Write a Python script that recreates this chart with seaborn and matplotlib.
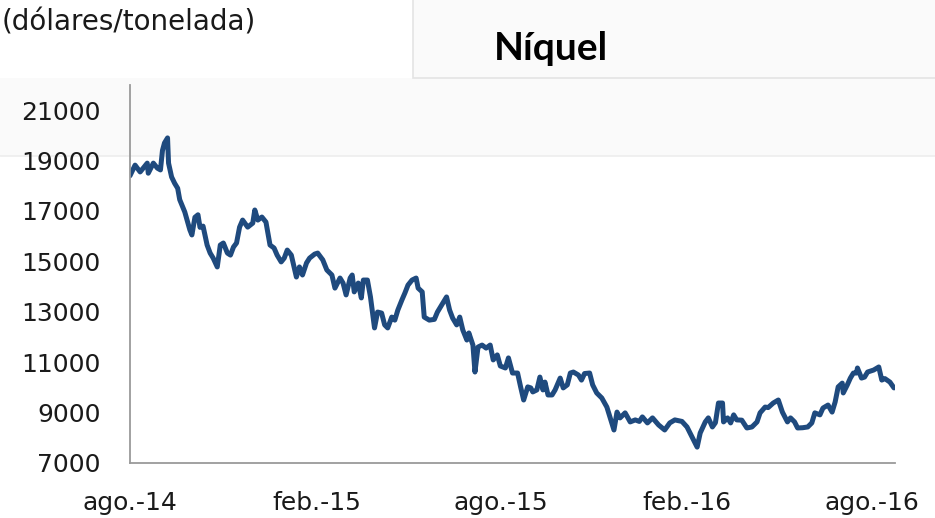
import pandas as pd
import seaborn as sns
import matplotlib.pyplot as plt
from matplotlib.patches import Rectangle
from matplotlib.lines import Line2D

# Nickel price, USD per tonne
dates = [
    '2014-08-01', '2014-08-06', '2014-08-11', '2014-08-18', '2014-08-19', '2014-08-24', '2014-08-28', '2014-08-31',
    '2014-09-02', '2014-09-04', '2014-09-07', '2014-09-08', '2014-09-11', '2014-09-14', '2014-09-17', '2014-09-19',
    '2014-09-22', '2014-09-24', '2014-09-29', '2014-10-01', '2014-10-04', '2014-10-07', '2014-10-09', '2014-10-12',
    '2014-10-16', '2014-10-19', '2014-10-22', '2014-10-26', '2014-10-29', '2014-11-01', '2014-11-05', '2014-11-08',
    '2014-11-11', '2014-11-14', '2014-11-17', '2014-11-20', '2014-11-25', '2014-11-30', '2014-12-02', '2014-12-05',
    '2014-12-09', '2014-12-13', '2014-12-17', '2014-12-21', '2014-12-24', '2014-12-28', '2014-12-31', '2015-01-03',
    '2015-01-07', '2015-01-12', '2015-01-15', '2015-01-18', '2015-01-22', '2015-01-25', '2015-01-30', '2015-02-02',
    '2015-02-07', '2015-02-11', '2015-02-16', '2015-02-19', '2015-02-24', '2015-02-27', '2015-03-02', '2015-03-06',
    '2015-03-08', '2015-03-10', '2015-03-14', '2015-03-17', '2015-03-19', '2015-03-23', '2015-03-26', '2015-03-30',
    '2015-04-02', '2015-04-06', '2015-04-09', '2015-04-12', '2015-04-16', '2015-04-19', '2015-04-22', '2015-04-26',
    '2015-04-29', '2015-05-02', '2015-05-06', '2015-05-10', '2015-05-12', '2015-05-16', '2015-05-18', '2015-05-23',
    '2015-05-28', '2015-05-31', '2015-06-06', '2015-06-09', '2015-06-12', '2015-06-15', '2015-06-19', '2015-06-22',
    '2015-06-25', '2015-06-29', '2015-07-01', '2015-07-05', '2015-07-07', '2015-07-10', '2015-07-14', '2015-07-18',
    '2015-07-22', '2015-07-25', '2015-07-29', '2015-08-01', '2015-08-06', '2015-08-09', '2015-08-13', '2015-08-18',
    '2015-08-21', '2015-08-24', '2015-08-28', '2015-08-31', '2015-09-02', '2015-09-06', '2015-09-09', '2015-09-12',
    '2015-09-14', '2015-09-17', '2015-09-21', '2015-09-24', '2015-09-29', '2015-10-02', '2015-10-06', '2015-10-09',
    '2015-10-12', '2015-10-17', '2015-10-20', '2015-10-23', '2015-10-28', '2015-10-31', '2015-11-04', '2015-11-09',
    '2015-11-14', '2015-11-17', '2015-11-21', '2015-11-24', '2015-11-27', '2015-12-02', '2015-12-07', '2015-12-12',
    '2015-12-16', '2015-12-19', '2015-12-24', '2015-12-29', '2016-01-04', '2016-01-10', '2016-01-15', '2016-01-20',
    '2016-01-27', '2016-02-01', '2016-02-06', '2016-02-11', '2016-02-14', '2016-02-19', '2016-02-22', '2016-02-26',
    '2016-02-29', '2016-03-03', '2016-03-07', '2016-03-08', '2016-03-12', '2016-03-15', '2016-03-18', '2016-03-21',
    '2016-03-26', '2016-03-31', '2016-04-05', '2016-04-10', '2016-04-13', '2016-04-18', '2016-04-21', '2016-04-26',
    '2016-05-01', '2016-05-05', '2016-05-10', '2016-05-13', '2016-05-17', '2016-05-20', '2016-05-25', '2016-05-30',
    '2016-06-03', '2016-06-06', '2016-06-11', '2016-06-14', '2016-06-19', '2016-06-23', '2016-06-26', '2016-06-29',
    '2016-07-03', '2016-07-04', '2016-07-08', '2016-07-11', '2016-07-14', '2016-07-17', '2016-07-18', '2016-07-22',
    '2016-07-25', '2016-07-28', '2016-08-03', '2016-08-08', '2016-08-11', '2016-08-14', '2016-08-19', '2016-08-23',
]
values = [
    18400, 18820, 18550, 18900, 18500, 18900, 18700, 18630,
    19400, 19700, 19900, 18900, 18350, 18100, 17900, 17450,
    17150, 16960, 16250, 16050, 16750, 16850, 16350, 16400,
    15650, 15330, 15130, 14780, 15650, 15730, 15330, 15250,
    15570, 15730, 16360, 16640, 16360, 16520, 17040, 16640,
    16760, 16560, 15650, 15530, 15250, 14980, 15130, 15450,
    15250, 14380, 14780, 14460, 14940, 15130, 15290, 15330,
    15060, 14660, 14460, 13940, 14340, 14140, 13670, 14340,
    14460, 13790, 14140, 13550, 14260, 14260, 13590, 12360,
    12990, 12950, 12480, 12360, 12790, 12670, 13070, 13470,
    13750, 14060, 14260, 14340, 13940, 13790, 12790, 12670,
    12700, 12990, 13390, 13590, 13070, 12750, 12480, 12790,
    12280, 11880, 12160, 11680, 10610, 11600, 11680, 11560,
    11680, 11090, 11290, 10850, 10770, 11170, 10570, 10570,
    10020, 9500, 10020, 9980, 9820, 9900, 10410, 9900,
    10210, 9700, 9700, 9900, 10370, 9980, 10100, 10570,
    10610, 10490, 10290, 10550, 10570, 10100, 9780, 9580,
    9220, 8830, 8310, 9020, 8790, 8990, 8630, 8710,
    8650, 8830, 8590, 8790, 8510, 8310, 8590, 8710,
    8650, 8430, 8030, 7630, 8190, 8630, 8790, 8430,
    8600, 9380, 9380, 8630, 8790, 8590, 8910, 8710,
    8700, 8390, 8430, 8630, 8990, 9220, 9200, 9380,
    9500, 9020, 8630, 8790, 8630, 8390, 8400, 8430,
    8590, 8990, 8910, 9180, 9300, 9020, 9420, 10020,
    10170, 9780, 10100, 10370, 10570, 10570, 10770, 10370,
    10410, 10610, 10690, 10810, 10290, 10350, 10210, 9980,
]

tick_dates = ['2014-08-01', '2015-02-01', '2015-08-01', '2016-02-01', '2016-08-01']
tick_labels = ['ago.-14', 'feb.-15', 'ago.-15', 'feb.-16', 'ago.-16']
y_ticks = [7000, 9000, 11000, 13000, 15000, 17000, 19000, 21000]

df = pd.DataFrame({'fecha': pd.to_datetime(dates), 'precio': values})

sns.set_style('white')
plt.rcParams['font.family'] = ['DejaVu Sans']

fig = plt.figure(figsize=(9.35, 5.18), dpi=100)
W, H = 935, 518

# light header band and title box (behind the axes)
fig.patches.append(Rectangle((0, 1 - 155 / H), 1, 77 / H, transform=fig.transFigure,
                             facecolor='#fafafa', edgecolor='none', zorder=0))
fig.lines.append(Line2D([0, 1], [1 - 155 / H, 1 - 155 / H], transform=fig.transFigure,
                        color='#efefef', lw=2, zorder=0))
fig.patches.append(Rectangle((413 / W, 1 - 78 / H), (W - 413) / W + 0.01, 0.2, transform=fig.transFigure,
                             facecolor='#fafafa', edgecolor='#e4e4e4', lw=1.2, zorder=0))

ax = fig.add_axes([130 / W, 1 - 463 / H, (895 - 130) / W, (463 - 85) / H])
ax.set_facecolor('none')
ax.set_zorder(2)

sns.lineplot(data=df, x='fecha', y='precio', ax=ax, color='#1f4a7e', linewidth=3.6)

ax.set_xlim(pd.Timestamp('2014-08-01'), pd.Timestamp('2016-08-24'))
ax.set_ylim(7000, 22000)
ax.set_yticks(y_ticks)
ax.set_yticklabels([str(v) for v in y_ticks])
ax.set_xticks(pd.to_datetime(tick_dates))
ax.set_xticklabels(tick_labels)
ax.set_xlabel('')
ax.set_ylabel('')

for side in ['top', 'right']:
    ax.spines[side].set_visible(False)
for side in ['left', 'bottom']:
    ax.spines[side].set_color('#9a9a9a')
    ax.spines[side].set_linewidth(1.3)
ax.tick_params(axis='both', direction='out', length=8, width=1.3, color='#9a9a9a',
               labelsize=18, labelcolor='#1a1a1a', pad=13)
ax.tick_params(axis='x', length=7)

fig.text(2 / W, 1 - 31 / H, '(dólares/tonelada)', fontsize=20, color='#1a1a1a',
         ha='left', va='baseline')
fig.text(551 / W, 1 - 60 / H, 'Níquel', fontsize=28, fontweight='bold', family=['Lato', 'DejaVu Sans'],
         color='#000000', ha='center', va='baseline')

fig.savefig('out.png', dpi=100)
